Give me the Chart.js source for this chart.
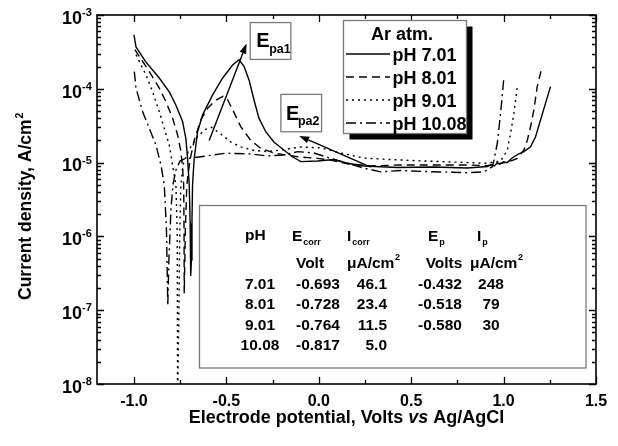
<!DOCTYPE html>
<html>
<head>
<meta charset="utf-8">
<title>Polarization curves, Ar atm.</title>
<script src="https://cdn.jsdelivr.net/npm/chart.js@4.4.0/dist/chart.umd.min.js"></script>
<style>
  html, body { margin: 0; padding: 0; background: #fff; }
  #wrap { width: 618px; height: 446px; }
</style>
</head>
<body>
<div id="wrap"><canvas id="chart" width="618" height="446"></canvas></div>
<script>
// potential (V vs Ag/AgCl), current density (A/cm2)
const ph701 = [
  [-1.000, 5.4e-4], [-0.989, 3.7e-4], [-0.935, 2.3e-4], [-0.863, 1.4e-4], [-0.809, 9.1e-5],
  [-0.773, 6.0e-5], [-0.737, 3.6e-5], [-0.719, 2.1e-5], [-0.710, 1.15e-5], [-0.701, 5.0e-6],
  [-0.696, 1.5e-6], [-0.693, 2.9e-7],
  [-0.689, 4.8e-7], [-0.686, 1.7e-6], [-0.683, 5.0e-6], [-0.674, 1.14e-5], [-0.656, 2.6e-5],
  [-0.629, 4.4e-5], [-0.575, 8.2e-5], [-0.521, 1.39e-4], [-0.466, 2.1e-4], [-0.432, 2.48e-4],
  [-0.404, 2.0e-4], [-0.377, 1.31e-4], [-0.350, 7.0e-5], [-0.324, 4.0e-5], [-0.286, 2.6e-5],
  [-0.243, 1.9e-5], [-0.189, 1.48e-5], [-0.141, 1.19e-5], [-0.097, 1.03e-5], [-0.007, 1.05e-5],
  [0.081, 1.10e-5], [0.155, 9.8e-6], [0.245, 9.0e-6], [0.425, 8.6e-6], [0.622, 8.7e-6],
  [0.804, 8.45e-6], [0.912, 8.85e-6], [0.935, 9.3e-6], [0.950, 9.0e-6], [0.965, 9.9e-6],
  [0.980, 9.5e-6], [1.000, 1.03e-5], [1.020, 1.0e-5], [1.040, 1.12e-5], [1.056, 1.2e-5],
  [1.080, 1.3e-5], [1.110, 1.41e-5], [1.146, 1.64e-5], [1.173, 2.24e-5], [1.200, 3.78e-5],
  [1.227, 6.4e-5], [1.254, 1.07e-4]
]
const ph801 = [
  [-0.995, 3.4e-4], [-0.917, 1.71e-4], [-0.863, 1.02e-4], [-0.827, 6.7e-5], [-0.791, 4.0e-5],
  [-0.764, 2.37e-5], [-0.746, 1.41e-5], [-0.737, 8.4e-6], [-0.731, 5.0e-6], [-0.729, 1.2e-6],
  [-0.728, 1.7e-7],
  [-0.722, 1.2e-6], [-0.714, 5.0e-6], [-0.697, 1.08e-5], [-0.674, 2.0e-5], [-0.638, 3.8e-5],
  [-0.600, 5.5e-5], [-0.557, 7.0e-5], [-0.518, 7.9e-5], [-0.492, 7.0e-5], [-0.466, 5.2e-5],
  [-0.422, 3.06e-5], [-0.368, 2.0e-5], [-0.314, 1.56e-5], [-0.243, 1.35e-5], [-0.115, 1.2e-5],
  [-0.007, 1.14e-5], [0.065, 1.08e-5], [0.155, 9.6e-6], [0.281, 9.0e-6], [0.443, 9.3e-6],
  [0.623, 9.3e-6], [0.804, 9.3e-6], [0.912, 9.1e-6], [0.950, 9.6e-6], [0.984, 9.8e-6],
  [1.010, 1.0e-5], [1.038, 1.05e-5], [1.074, 1.14e-5], [1.110, 1.48e-5], [1.128, 2.0e-5],
  [1.146, 3.06e-5], [1.164, 5.2e-5], [1.182, 1.07e-4], [1.204, 1.8e-4]
]
const ph901 = [
  [-0.989, 2.9e-4], [-0.935, 1.54e-4], [-0.899, 9.1e-5], [-0.863, 4.9e-5], [-0.836, 2.9e-5],
  [-0.809, 1.73e-5], [-0.791, 9.3e-6], [-0.773, 5.0e-6], [-0.766, 1.2e-6], [-0.765, 1.4e-7],
  [-0.764, 5e-9],
  [-0.756, 1.4e-7], [-0.752, 1.2e-6], [-0.746, 5.0e-6], [-0.735, 9.3e-6], [-0.703, 1.48e-5],
  [-0.659, 2.2e-5], [-0.616, 2.8e-5], [-0.580, 3.0e-5], [-0.530, 2.44e-5], [-0.476, 1.9e-5],
  [-0.422, 1.63e-5], [-0.350, 1.46e-5], [-0.277, 1.41e-5], [-0.205, 1.48e-5], [-0.097, 1.63e-5],
  [0.011, 1.58e-5], [0.119, 1.35e-5], [0.243, 1.15e-5], [0.389, 1.1e-5], [0.535, 1.06e-5],
  [0.714, 1.02e-5], [0.912, 9.8e-6], [0.984, 1.05e-5], [1.020, 1.48e-5], [1.038, 2.5e-5],
  [1.056, 4.7e-5], [1.074, 1.07e-4]
]
const ph1008 = [
  [-0.998, 1.71e-4], [-0.989, 1.02e-4], [-0.953, 4.9e-5], [-0.917, 2.9e-5], [-0.881, 1.73e-5],
  [-0.854, 9.3e-6], [-0.836, 5.0e-6], [-0.824, 1.2e-6], [-0.817, 1.15e-7],
  [-0.811, 4.8e-7], [-0.800, 2.3e-6], [-0.789, 5.0e-6], [-0.773, 7.9e-6], [-0.751, 1.05e-5],
  [-0.728, 1.12e-5], [-0.638, 1.2e-5], [-0.503, 1.34e-5], [-0.368, 1.31e-5], [-0.277, 1.23e-5],
  [-0.188, 1.27e-5], [-0.115, 1.41e-5], [-0.027, 1.35e-5], [0.065, 1.14e-5], [0.155, 9.8e-6],
  [0.245, 8.4e-6], [0.335, 7.5e-6], [0.443, 7.8e-6], [0.623, 7.5e-6], [0.804, 7.3e-6],
  [0.894, 7.5e-6], [0.939, 8.8e-6], [0.948, 1.08e-5], [0.966, 1.83e-5], [0.984, 4.7e-5],
  [1.002, 1.46e-4]
]

const seriesLabels = ['pH 7.01', 'pH 8.01', 'pH 9.01', 'pH 10.08']
const seriesDash = [[], [8, 5], [2, 4], [10, 4, 2, 4]]

const xTicks = [-1.0, -0.5, 0.0, 0.5, 1.0, 1.5]
const xMinorTicks = [-0.75, -0.25, 0.25, 0.75, 1.25]
const yExponents = [-8, -7, -6, -5, -4, -3]

// inset table
const tablePH = ['7.01', '8.01', '9.01', '10.08']
const tableEcorr = ['-0.693', '-0.728', '-0.764', '-0.817']
const tableIcorr = ['46.1', '23.4', '11.5', '5.0']
const tableEp = ['-0.432', '-0.518', '-0.580', '']
const tableIp = ['248', '79', '30', '']

const FONT = '"Liberation Sans", Arial, Helvetica, sans-serif'
const bold = (px) => 'bold ' + px + 'px ' + FONT

function text(ctx, s, x, y, font, align){
    ctx.font = font
    ctx.textAlign = align || 'left'
    ctx.textBaseline = 'alphabetic'
    ctx.fillText(s, x, y)
    return ctx.measureText(s).width
}

function arrow(ctx, x0, y0, x1, y1){
    const ang = Math.atan2(y1 - y0, x1 - x0)
    const len = 10, half = 3.5
    const bx = x1 - len*Math.cos(ang), by = y1 - len*Math.sin(ang)
    ctx.beginPath()
    ctx.moveTo(x0, y0)
    ctx.lineTo(bx, by)
    ctx.stroke()
    ctx.beginPath()
    ctx.moveTo(x1, y1)
    ctx.lineTo(bx + half*Math.sin(ang), by - half*Math.cos(ang))
    ctx.lineTo(bx - half*Math.sin(ang), by + half*Math.cos(ang))
    ctx.closePath()
    ctx.fill()
}

const decorations = {
    id: 'decorations',
    afterDraw(chart){
        const {ctx, chartArea: a, scales: {x, y}} = chart
        ctx.save()
        ctx.strokeStyle = '#000'
        ctx.fillStyle = '#000'
        ctx.setLineDash([])

        // frame
        ctx.lineWidth = 1.6
        ctx.strokeRect(a.left, a.top, a.right - a.left, a.bottom - a.top)

        // ticks, all pointing inward
        ctx.lineWidth = 1.3
        ctx.beginPath()
        xTicks.forEach(v => {
            const px = Math.round(x.getPixelForValue(v)) + 0.5
            ctx.moveTo(px, a.bottom); ctx.lineTo(px, a.bottom - 7)
            ctx.moveTo(px, a.top); ctx.lineTo(px, a.top + 7)
        })
        xMinorTicks.forEach(v => {
            const px = Math.round(x.getPixelForValue(v)) + 0.5
            ctx.moveTo(px, a.bottom); ctx.lineTo(px, a.bottom - 4)
            ctx.moveTo(px, a.top); ctx.lineTo(px, a.top + 4)
        })
        yExponents.forEach(e => {
            const py = Math.round(y.getPixelForValue(Math.pow(10, e))) + 0.5
            ctx.moveTo(a.left, py); ctx.lineTo(a.left + 7, py)
            ctx.moveTo(a.right, py); ctx.lineTo(a.right - 7, py)
            if(e < -3){
                for(let k = 2; k <= 9; k++){
                    const pm = Math.round(y.getPixelForValue(k*Math.pow(10, e))) + 0.5
                    ctx.moveTo(a.left, pm); ctx.lineTo(a.left + 4, pm)
                    ctx.moveTo(a.right, pm); ctx.lineTo(a.right - 4, pm)
                }
            }
        })
        ctx.stroke()

        // tick labels
        xTicks.forEach(v => {
            text(ctx, v.toFixed(1), x.getPixelForValue(v), a.bottom + 22, bold(16), 'center')
        })
        yExponents.forEach(e => {
            const py = y.getPixelForValue(Math.pow(10, e))
            text(ctx, '10', a.left - 15, py + 8.8, bold(18), 'right')
            text(ctx, '-' + Math.abs(e), a.left - 15, py + 1, bold(11), 'left')
        })

        // x title with italic "vs"
        const partA = 'Electrode potential, Volts ', partB = 'vs', partC = ' Ag/AgCl'
        const italic = 'italic bold 18px ' + FONT
        ctx.font = bold(18)
        const wA = ctx.measureText(partA).width, wC = ctx.measureText(partC).width
        ctx.font = italic
        const wB = ctx.measureText(partB).width
        let tx = (a.left + a.right)/2 - (wA + wB + wC)/2
        const ty = 423
        tx += text(ctx, partA, tx, ty, bold(18))
        tx += text(ctx, partB, tx, ty, italic)
        text(ctx, partC, tx, ty, bold(18))

        // y title, rotated
        ctx.save()
        ctx.translate(31, 300)
        ctx.rotate(-Math.PI/2)
        const wy = text(ctx, 'Current density, A/cm', 0, 0, bold(17.5))
        text(ctx, '2', wy + 1, -8, bold(10.5))
        ctx.restore()

        // peak labels and arrows
        const box = (x0, y0, x1, y1) => {
            ctx.fillStyle = '#fff'
            ctx.fillRect(x0, y0, x1 - x0, y1 - y0)
            ctx.strokeStyle = '#7a7a7a'
            ctx.lineWidth = 1.3
            ctx.strokeRect(x0, y0, x1 - x0, y1 - y0)
            ctx.strokeStyle = '#000'
            ctx.fillStyle = '#000'
        }
        const b1 = [x.getPixelForValue(-0.371), y.getPixelForValue(7.9e-4), x.getPixelForValue(-0.151), y.getPixelForValue(2.5e-4)]
        box(...b1)
        text(ctx, 'E', b1[0] + 6, b1[1] + 24, bold(20))
        text(ctx, 'pa1', b1[0] + 19, b1[1] + 30, bold(12.5))
        const b2 = [x.getPixelForValue(-0.205), y.getPixelForValue(8.4e-5), x.getPixelForValue(0.015), y.getPixelForValue(2.62e-5)]
        box(...b2)
        text(ctx, 'E', b2[0] + 5, b2[1] + 26, bold(20))
        text(ctx, 'pa2', b2[0] + 17, b2[1] + 31, bold(12.5))

        ctx.lineWidth = 1.4
        arrow(ctx, x.getPixelForValue(-0.593), y.getPixelForValue(2.0e-5),
                   x.getPixelForValue(-0.391), y.getPixelForValue(4.1e-4))
        arrow(ctx, x.getPixelForValue(0.281), y.getPixelForValue(8.7e-6),
                   x.getPixelForValue(-0.106), y.getPixelForValue(2.3e-5))

        // legend with drop shadow
        const L = {x0: 343.5, y0: 20.5, x1: 466.5, y1: 133.5}
        ctx.fillStyle = '#000'
        ctx.fillRect(L.x0 + 6, L.y0 + 6, L.x1 - L.x0, L.y1 - L.y0)
        box(L.x0, L.y0, L.x1, L.y1)
        text(ctx, 'Ar atm.', 402, 39.5, bold(18), 'center')
        const rows = [54, 77, 100, 123]
        seriesLabels.forEach((lab, i) => {
            ctx.setLineDash(seriesDash[i])
            ctx.lineWidth = 1.4
            ctx.beginPath()
            ctx.moveTo(346, rows[i]); ctx.lineTo(390, rows[i])
            ctx.stroke()
            ctx.setLineDash([])
            text(ctx, lab, 392.5, rows[i] + 7, bold(18))
        })

        // inset table
        box(199.5, 205.5, 586, 368)
        const f = bold(15.5), sub = bold(9)
        text(ctx, 'pH', 245, 240, f)
        let w = text(ctx, 'E', 292, 241, f)
        text(ctx, 'corr', 292 + w + 1, 245, sub)
        w = text(ctx, 'I', 347, 241, f)
        text(ctx, 'corr', 347 + w + 1, 245, sub)
        w = text(ctx, 'E', 428, 241, f)
        text(ctx, 'p', 428 + w + 1, 245, sub)
        w = text(ctx, 'I', 477, 241, f)
        text(ctx, 'p', 477 + w + 1, 245, sub)

        text(ctx, 'Volt', 310, 268, f, 'center')
        w = text(ctx, '\u03bcA/cm', 347, 268, f)
        text(ctx, '2', 347 + w + 0.5, 260, sub)
        text(ctx, 'Volts', 444, 268, f, 'center')
        w = text(ctx, '\u03bcA/cm', 470, 268, f)
        text(ctx, '2', 470 + w + 0.5, 260, sub)

        const base = [289, 309, 329.5, 349.5]
        tablePH.forEach((s, i) => text(ctx, s, 260, base[i], f, 'center'))
        tableEcorr.forEach((s, i) => text(ctx, s, 318, base[i], f, 'center'))
        tableIcorr.forEach((s, i) => text(ctx, s, 387, base[i], f, 'right'))
        tableEp.forEach((s, i) => text(ctx, s, 440, base[i], f, 'center'))
        tableIp.forEach((s, i) => text(ctx, s, 491, base[i], f, 'center'))

        ctx.restore()
    }
}

const datasets = [ph701, ph801, ph901, ph1008].map((pts, i) => ({
    label: seriesLabels[i],
    data: pts.map(p => ({x: p[0], y: p[1]})),
    borderColor: '#000',
    borderWidth: 1.4,
    borderDash: seriesDash[i],
    pointRadius: 0,
    fill: false,
    tension: 0
}))

new Chart(document.getElementById('chart'), {
    type: 'line',
    data: {datasets},
    options: {
        responsive: false,
        animation: false,
        layout: {padding: {left: 97, top: 15, right: 22, bottom: 62}},
        plugins: {legend: {display: false}, tooltip: {enabled: false}},
        scales: {
            x: {type: 'linear', min: -1.2, max: 1.5, display: false},
            y: {type: 'logarithmic', min: 1e-8, max: 1e-3, display: false}
        }
    },
    plugins: [decorations]
})
</script>
</body>
</html>
